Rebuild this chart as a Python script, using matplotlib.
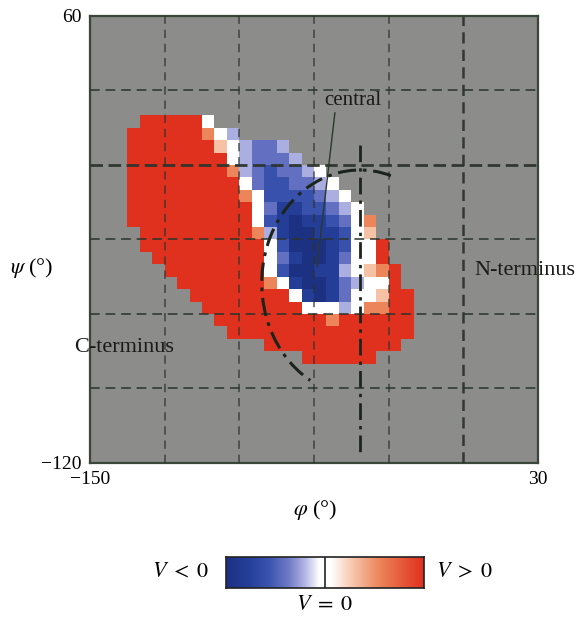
import numpy as np
import matplotlib
matplotlib.use('Agg')
import matplotlib.pyplot as plt
from matplotlib.colors import LinearSegmentedColormap
from matplotlib.patches import Arc

plt.rcParams['font.family'] = ['Liberation Serif', 'DejaVu Serif']
plt.rcParams['mathtext.fontset'] = 'stix'

# ---- data ----
phi_limits = [-150, 30]
psi_limits = [-120, 60]
cell_size = 5
grid_phi = [-120, -90, -60, -30, 0]
grid_psi = [30, 0, -30, -60, -90]
bold_phi = [0]
bold_psi = [0]
first_row = 8     # row index (from psi=60, downward) of first row below
first_col = 3     # column index (from phi=-150) of first char

# cell level codes: D darkest blue ... w white ... R full red
level_codes = {'D': -1.0, 'B': -0.8, 'b': -0.6, 'm': -0.42, 'l': -0.22,
               'w': 0.0, 'p': 0.3, 'o': 0.55, 'R': 1.0}
cell_rows = [
    ".RRRRRw",
    "RRRRRRowl",
    "RRRRRRRpwlmml",
    "RRRRRRRRwlmmml",
    "RRRRRRRRolmbmmlw",
    "RRRRRRRRRwmbbmmlw",
    "RRRRRRRRRowbbbbmlw",
    "RRRRRRRRRRwmBBbbmlw",
    "RRRRRRRRRRwbBDBBbmwo",
    ".RRRRRRRRRolBDDBBbwp",
    ".RRRRRRRRRRwbDDDBbwwR",
    "..RRRRRRRRRwmBDDBmwwR",
    "...RRRRRRRRwbDDBBlwpoR",
    "....RRRRRRRowBDDBmlwwR",
    ".....RRRRRRRRwBDBmwwpRR",
    "......RRRRRRRRwwwlwooRR",
    ".......RRRRRRRRRoRRRRRR",
    "........RRRRRRRRRRRRRRR",
    "...........RRRRRRRRRRR",
    "..............RRRRRR",
]

central_label_phi, central_label_psi = -44.5, 26.0
central_line_phi = [-51.6, -58.8]
central_line_psi = [21.0, -41.0]
sep_phi = -41.5
sep_psi = [8.0, -117.0]
arc_center = (-41.5, -47.5)
arc_size = (79.0, 91.0)
arc_theta = (74, 243)

# ---- build grid ----
n = int((phi_limits[1] - phi_limits[0]) / cell_size)
Z = np.full((n, n), np.nan)
for r, row in enumerate(cell_rows):
    for k, ch in enumerate(row):
        if ch != '.':
            Z[first_row + r, first_col + k] = level_codes[ch]
phi_edges = np.linspace(phi_limits[0], phi_limits[1], n + 1)
psi_edges = np.linspace(psi_limits[1], psi_limits[0], n + 1)

cmap = LinearSegmentedColormap.from_list('vmap', [
    (0.0, '#1d3183'), (0.12, '#25409a'), (0.22, '#3c55b0'), (0.32, '#737cc8'),
    (0.40, '#b5b7e4'), (0.47, '#ffffff'), (0.53, '#ffffff'),
    (0.64, '#f7c7ad'), (0.78, '#ec8458'), (1.0, '#e0311e')])

W, H = 577, 617
fig = plt.figure(figsize=(W / 100, H / 100), dpi=100)
fig.patch.set_facecolor('white')
L, R, T, B = 90, 538, 16, 463
ax = fig.add_axes([L / W, 1 - B / H, (R - L) / W, (B - T) / H])
ax.set_facecolor('#8c8c8b')
ax.pcolormesh(phi_edges, psi_edges, Z, cmap=cmap, vmin=-1, vmax=1, zorder=1)
ax.set_xlim(*phi_limits)
ax.set_ylim(*psi_limits)

gcol = '#2c342c'
for g in grid_phi:
    bold = g in bold_phi
    ax.plot([g, g], psi_limits, color=gcol, lw=1.8 if bold else 1.2,
            linestyle=(0, (4.5, 2.5)) if bold else (0, (5, 3.5)),
            alpha=0.95 if bold else 0.75, zorder=3)
for g in grid_psi:
    bold = g in bold_psi
    ax.plot(phi_limits, [g, g], color=gcol, lw=2.0 if bold else 1.4,
            linestyle=(0, (4.5, 2.0)) if bold else (0, (5, 3)),
            alpha=0.95 if bold else 0.8, zorder=3)

dd = (0, (6, 2.2, 1.2, 2.2))
ax.plot([sep_phi, sep_phi], sep_psi, color='#1c241c', lw=2.0, linestyle=dd, zorder=4)
arc = Arc(arc_center, arc_size[0], arc_size[1], theta1=arc_theta[0], theta2=arc_theta[1],
          color='#1c241c', lw=2.2, linestyle=dd, zorder=4)
ax.add_patch(arc)
ax.plot(central_line_phi, central_line_psi, color='#2a3a2a', lw=1.0, zorder=4)
ax.text(central_label_phi, central_label_psi, 'central', fontsize=15, ha='center', va='center',
        color='#1a1a1a', zorder=5)
ax.text(4.5, -42.5, 'N-terminus', fontsize=16, ha='left', va='center', color='#1a1a1a',
        clip_on=False, zorder=5)
ax.text(-156.5, -73.5, 'C-terminus', fontsize=16, ha='left', va='center', color='#1a1a1a',
        clip_on=False, zorder=5)

ax.set_xticks(phi_limits)
ax.set_xticklabels(['\u2212150', '30'])
ax.set_yticks(psi_limits)
ax.set_yticklabels(['\u2212120', '60'])
ax.tick_params(length=0, labelsize=14, pad=6)
for s in ax.spines.values():
    s.set_color('#3b463b')
    s.set_linewidth(1.6)

fig.text(32 / W, 1 - 268 / H, r'$\psi$ (°)', fontsize=16, ha='center', va='center')
fig.text(315 / W, 1 - 510 / H, r'$\varphi$ (°)', fontsize=16, ha='center', va='center')

# colour bar
cx0, cx1, cy0, cy1 = 226, 424, 557, 588
cax = fig.add_axes([cx0 / W, 1 - cy1 / H, (cx1 - cx0) / W, (cy1 - cy0) / H])
grad = np.linspace(-1, 1, 400)[None, :]
cax.imshow(grad, aspect='auto', cmap=cmap, vmin=-1, vmax=1, extent=[-1, 1, 0, 1])
cax.axvline(0, color='#222222', lw=1.2)
cax.set_xticks([])
cax.set_yticks([])
for s in cax.spines.values():
    s.set_color('#222222')
    s.set_linewidth(1.2)
fig.text(180 / W, 1 - 573 / H, r'$V\;<\;0$', fontsize=16, ha='center', va='center')
fig.text(464 / W, 1 - 573 / H, r'$V\;>\;0$', fontsize=16, ha='center', va='center')
fig.text(324 / W, 1 - 606 / H, r'$V\;=\;0$', fontsize=16, ha='center', va='center')

fig.savefig('out.png', dpi=100)
